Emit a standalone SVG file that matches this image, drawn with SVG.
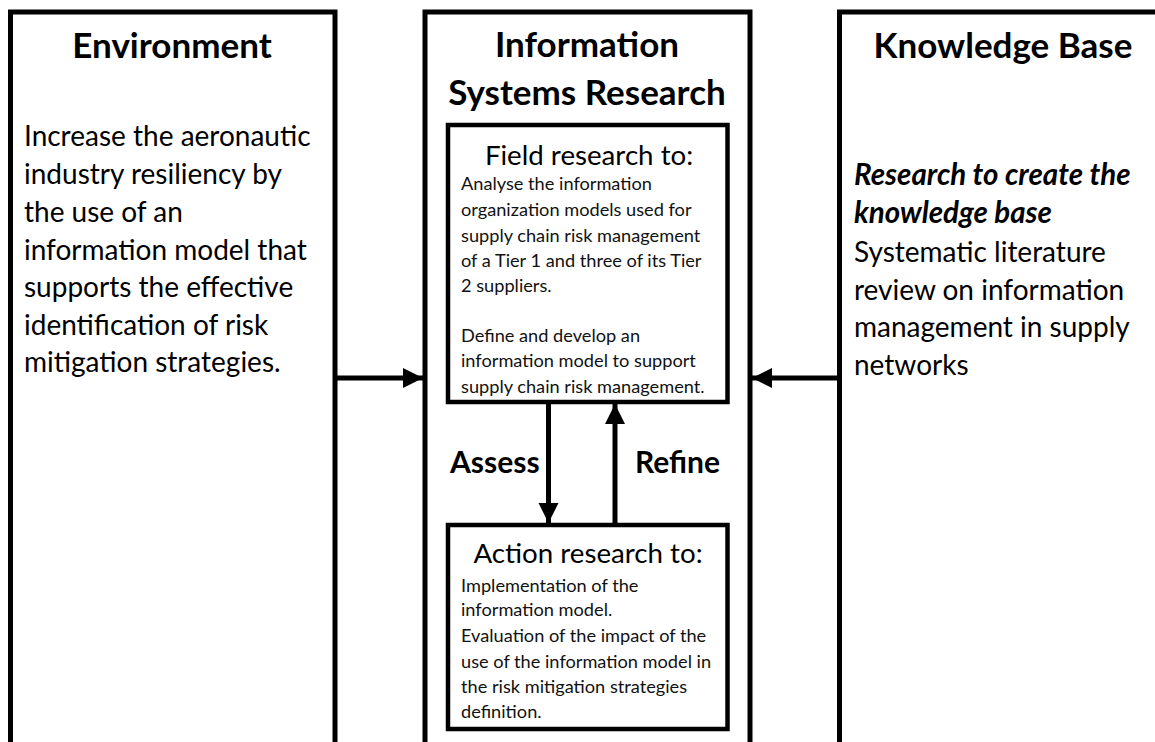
<svg xmlns="http://www.w3.org/2000/svg" width="1155" height="742" viewBox="0 0 1155 742">
<style>
.box{fill:#fff;stroke:#000;stroke-width:5}
.ibox{fill:#fff;stroke:#000;stroke-width:4.5}
.title{font-family:Lato,"Liberation Sans",sans-serif;font-weight:bold;font-size:35px;fill:#000;text-anchor:middle}
.body{font-family:Lato,"Liberation Sans",sans-serif;font-size:28px;fill:#000}
.bi{font-weight:bold;font-style:italic;font-size:29.5px}
.sub{font-family:Lato,"Liberation Sans",sans-serif;font-size:27.7px;fill:#000;text-anchor:middle}
.small{font-family:Lato,"Liberation Sans",sans-serif;font-size:18.2px;fill:#111}
.lbl{font-family:Lato,"Liberation Sans",sans-serif;font-weight:bold;font-size:30px;fill:#000}
.con{stroke:#000;stroke-width:5;fill:none}
</style>
<defs>
<marker id="ah" viewBox="0 0 10 10" refX="10" refY="5" markerWidth="4" markerHeight="4.4" markerUnits="strokeWidth" orient="auto">
<path d="M0,0 L10,5 L0,10 z" fill="#000"/>
</marker>
</defs>
<rect width="1155" height="742" fill="#fff"/>
<g id="environment">
<rect class="box" x="10.5" y="12" width="324.5" height="760"/>
<text class="title" x="172" y="58">Environment</text>
<text class="body" x="24" y="146">Increase the aeronautic</text>
<text class="body" x="24" y="184">industry resiliency by</text>
<text class="body" x="24" y="222">the use of an</text>
<text class="body" x="24" y="260">information model that</text>
<text class="body" x="24" y="297">supports the effective</text>
<text class="body" x="24" y="335">identification of risk</text>
<text class="body" x="24" y="372">mitigation strategies.</text>
</g>
<g id="isr">
<rect class="box" x="425" y="12" width="325" height="760"/>
<text class="title" x="587" y="57">Information</text>
<text class="title" x="587" y="105">Systems Research</text>
</g>
<g id="knowledge-base">
<rect class="box" x="839.5" y="12" width="340" height="760"/>
<text class="title" x="1003" y="58">Knowledge Base</text>
<text class="body bi" x="854" y="185">Research to create the</text>
<text class="body bi" x="854" y="223">knowledge base</text>
<text class="body" x="854" y="262">Systematic literature</text>
<text class="body" x="854" y="300">review on information</text>
<text class="body" x="854" y="337">management in supply</text>
<text class="body" x="854" y="375">networks</text>
</g>
<g id="field-research">
<rect class="ibox" x="448" y="125" width="279.5" height="277"/>
<text class="sub" x="589" y="165">Field research to:</text>
<text class="small" x="461" y="190">Analyse the information</text>
<text class="small" x="461" y="216">organization models used for</text>
<text class="small" x="461" y="242">supply chain risk management</text>
<text class="small" x="461" y="267">of a Tier 1 and three of its Tier</text>
<text class="small" x="461" y="292">2 suppliers.</text>
<text class="small" x="461" y="342">Define and develop an</text>
<text class="small" x="461" y="367">information model to support</text>
<text class="small" x="461" y="393">supply chain risk management.</text>
</g>
<g id="action-research">
<rect class="ibox" x="448" y="525" width="279.5" height="204"/>
<text class="sub" x="588" y="563">Action research to:</text>
<text class="small" x="461" y="592">Implementation of the</text>
<text class="small" x="461" y="616">information model.</text>
<text class="small" x="461" y="642">Evaluation of the impact of the</text>
<text class="small" x="461" y="668">use of the information model in</text>
<text class="small" x="461" y="693">the risk mitigation strategies</text>
<text class="small" x="461" y="718">definition.</text>
</g>
<g id="connectors">
<line class="con" x1="335" y1="378" x2="423" y2="378" marker-end="url(#ah)"/>
<line class="con" x1="839" y1="378" x2="752" y2="378" marker-end="url(#ah)"/>
<line class="con" x1="548.5" y1="404" x2="548.5" y2="523" marker-end="url(#ah)"/>
<line class="con" x1="615" y1="523" x2="615" y2="404" marker-end="url(#ah)"/>
<text class="lbl" x="450" y="473">Assess</text>
<text class="lbl" x="635" y="473">Refine</text>
</g>
</svg>
